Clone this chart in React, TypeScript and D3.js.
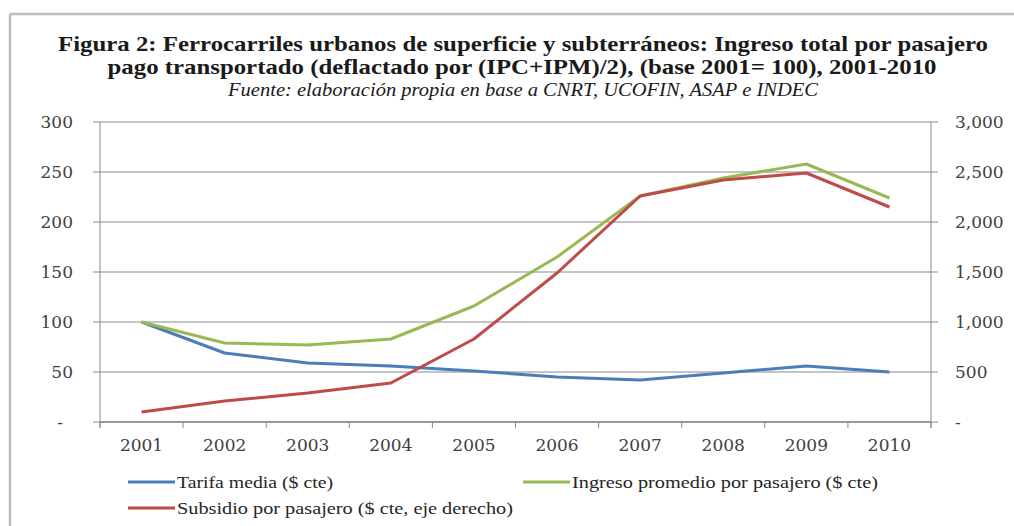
import React from "react";
import * as d3 from "d3";

const years = ["2001", "2002", "2003", "2004", "2005", "2006", "2007", "2008", "2009", "2010"];
const tarifaMedia = [100, 69, 59, 56, 51, 45, 42, 49, 56, 50];
const ingresoPromedio = [100, 79, 77, 83, 116, 165, 226, 244, 258, 224];
const subsidio = [100, 210, 290, 390, 830, 1490, 2260, 2420, 2490, 2150];
const leftTicks = [0, 50, 100, 150, 200, 250, 300];
const rightTicks = [0, 500, 1000, 1500, 2000, 2500, 3000];

const titleLines = [
  "Figura 2: Ferrocarriles urbanos de superficie y subterráneos: Ingreso total por pasajero",
  "pago transportado (deflactado por (IPC+IPM)/2), (base 2001= 100), 2001-2010",
];
const sourceLine = "Fuente: elaboración propia en base a CNRT, UCOFIN, ASAP e INDEC";
const legendLabels = [
  "Tarifa media ($ cte)",
  "Ingreso promedio por pasajero ($ cte)",
  "Subsidio por pasajero ($ cte, eje derecho)",
];

const W = 1014;
const H = 526;
const PL = 100, PR = 931, PT = 122, PB = 422;
const BLUE = "#4a7ebb", GREEN = "#98b954", RED = "#be4b48";
const SERIF = "'Liberation Serif', 'Times New Roman', Times, serif";
const TICKFONT = "'DejaVu Serif', serif";

export default function App() {
  const x = d3.scaleBand<string>().domain(years).range([PL, PR]);
  const cx = (y: string) => (x(y) as number) + x.bandwidth() / 2;
  const yL = d3.scaleLinear().domain([0, 300]).range([PB, PT]);
  const yR = d3.scaleLinear().domain([0, 3000]).range([PB, PT]);
  const lineL = d3.line<number>().x((_, i) => cx(years[i])).y((d) => yL(d));
  const lineR = d3.line<number>().x((_, i) => cx(years[i])).y((d) => yR(d));
  const fmtR = d3.format(",");

  const series = [
    { vals: tarifaMedia, gen: lineL, color: BLUE },
    { vals: ingresoPromedio, gen: lineL, color: GREEN },
    { vals: subsidio, gen: lineR, color: RED },
  ];

  const legendItems = [
    { label: legendLabels[0], color: BLUE, x: 128, y: 482, len: 156 },
    { label: legendLabels[1], color: GREEN, x: 523, y: 482, len: 306 },
    { label: legendLabels[2], color: RED, x: 128, y: 508, len: 336 },
  ];

  const boundaries = years.map((y) => x(y) as number).concat([PR]);
  const tickStyle = { fontFamily: TICKFONT, fontSize: 17 };

  return (
    <svg width={W} height={H} style={{ position: "absolute", left: 0, top: 0, background: "#fff" }}>
      <rect x={0} y={0} width={W} height={H} fill="#fff" />
      {/* frame */}
      <line x1={10} y1={14} x2={W} y2={14} stroke="#bdbdbd" strokeWidth={2.5} />
      <line x1={10} y1={14} x2={10} y2={H} stroke="#bdbdbd" strokeWidth={2.5} />

      {/* title */}
      <text x={523} y={51} textAnchor="middle" fill="#1a1a1a" textLength={930} lengthAdjust="spacingAndGlyphs"
        style={{ fontFamily: SERIF, fontWeight: "bold", fontSize: 21 }}>
        {titleLines[0]}
      </text>
      <text x={522} y={74} textAnchor="middle" fill="#1a1a1a" textLength={829} lengthAdjust="spacingAndGlyphs"
        style={{ fontFamily: SERIF, fontWeight: "bold", fontSize: 21 }}>
        {titleLines[1]}
      </text>
      <text x={523} y={96} textAnchor="middle" fill="#1a1a1a" textLength={590} lengthAdjust="spacingAndGlyphs"
        style={{ fontFamily: SERIF, fontStyle: "italic", fontSize: 19 }}>
        {sourceLine}
      </text>

      {/* gridlines */}
      {leftTicks.map((t) => (
        <line key={"g" + t} x1={PL - 7} x2={PR + 7} y1={yL(t)} y2={yL(t)} stroke="#8a8a8a" strokeWidth={1.2} />
      ))}
      {/* axes */}
      <line x1={PL} x2={PL} y1={PT} y2={PB + 6} stroke="#8a8a8a" strokeWidth={1} />
      <line x1={PR} x2={PR} y1={PT} y2={PB + 6} stroke="#8a8a8a" strokeWidth={1} />
      <line x1={PL} x2={PR} y1={PB} y2={PB} stroke="#8a8a8a" strokeWidth={1.5} />
      {boundaries.map((b, i) => (
        <line key={"xt" + i} x1={b} x2={b} y1={PB} y2={PB + 6} stroke="#8a8a8a" strokeWidth={1} />
      ))}

      {/* left tick labels */}
      {leftTicks.map((t) => (
        <text key={"l" + t} x={t === 0 ? 63 : 73} y={yL(t)} dy="0.36em" textAnchor="end" fill="#404040" style={tickStyle}>
          {t === 0 ? "-" : String(t)}
        </text>
      ))}
      {/* right tick labels */}
      {rightTicks.map((t) => (
        <text key={"r" + t} x={955} y={yR(t)} dy="0.36em" textAnchor="start" fill="#404040" style={tickStyle}>
          {t === 0 ? "-" : fmtR(t)}
        </text>
      ))}
      {/* x labels */}
      {years.map((y) => (
        <text key={"x" + y} x={cx(y)} y={445} dy="0.36em" textAnchor="middle" fill="#404040" style={tickStyle}>
          {y}
        </text>
      ))}

      {/* series */}
      {series.map((s, i) => (
        <path key={"s" + i} d={s.gen(s.vals) || ""} fill="none" stroke={s.color} strokeWidth={3} strokeLinejoin="round" />
      ))}

      {/* legend */}
      {legendItems.map((l, i) => (
        <g key={"lg" + i}>
          <line x1={l.x} x2={l.x + 47} y1={l.y} y2={l.y} stroke={l.color} strokeWidth={3} />
          <text x={l.x + 49} y={l.y} dy="0.33em" fill="#262626" textLength={l.len} lengthAdjust="spacingAndGlyphs"
            style={{ fontFamily: SERIF, fontSize: 17 }}>
            {l.label}
          </text>
        </g>
      ))}
    </svg>
  );
}
